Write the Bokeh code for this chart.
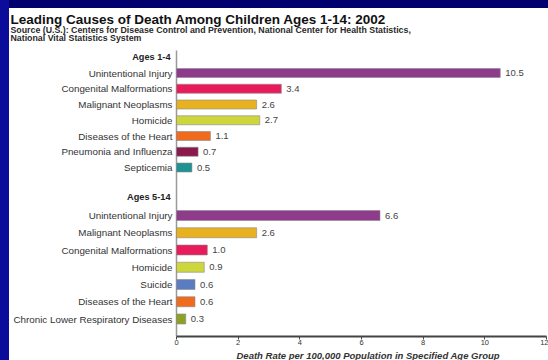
from bokeh.plotting import figure
from bokeh.models import ColumnDataSource, Range1d, FixedTicker, Spacer, Title
from bokeh.layouts import row, column
from bokeh.embed import file_html
from bokeh.resources import INLINE
from bokeh.core.properties import value

# ---------------- data ----------------
chart_title = "Leading Causes of Death Among Children Ages 1-14: 2002"
source_line1 = "Source (U.S.): Centers for Disease Control and Prevention, National Center for Health Statistics,"
source_line2 = "National Vital Statistics System"

group1_label = "Ages 1-4"
group1_causes = ["Unintentional Injury", "Congenital Malformations", "Malignant Neoplasms",
                 "Homicide", "Diseases of the Heart", "Pneumonia and Influenza", "Septicemia"]
group1_rates = [10.5, 3.4, 2.6, 2.7, 1.1, 0.7, 0.5]
group1_colors = ["#8e3b8c", "#e81b5c", "#e8b11f", "#cdd63c", "#ef6b1e", "#8a1a4c", "#1d9294"]

group2_label = "Ages 5-14"
group2_causes = ["Unintentional Injury", "Malignant Neoplasms", "Congenital Malformations",
                 "Homicide", "Suicide", "Diseases of the Heart", "Chronic Lower Respiratory Diseases"]
group2_rates = [6.6, 2.6, 1.0, 0.9, 0.6, 0.6, 0.3]
group2_colors = ["#8e3b8c", "#e8b11f", "#e81b5c", "#cdd63c", "#5b7cc0", "#ef6b1e", "#8fa123"]

x_ticks = [0, 2, 4, 6, 8, 10, 12]
x_title = "Death Rate per 100,000 Population in Specified Age Group"

# ---------------- geometry ----------------
FONT = "Liberation Sans"
PANEL_W, PANEL_H = 539, 352          # white panel (slide strips take the rest)
BOTTOM = 24                          # room for the x axis and its title
ZERO_PX, MAX_PX = 167, 537           # where 0 and 12 sit inside the panel
TOP_PX = 42                          # y = 0 (top of the bar area) inside the panel
ppu = (MAX_PX - ZERO_PX) / x_ticks[-1]
x_range = Range1d(-ZERO_PX / ppu, x_ticks[-1] + (PANEL_W - MAX_PX) / ppu)
y_bottom = PANEL_H - BOTTOM - TOP_PX
y_range = Range1d(y_bottom, -TOP_PX)   # 1 data unit = 1 px, downwards

g1_header = 6.5
g1_pos = [22.5 + 15.75 * i for i in range(len(group1_causes))]
g2_header = 146.5
g2_pos = [165 + 17.25 * i for i in range(len(group2_causes))]

src = ColumnDataSource(dict(
    y=g1_pos + g2_pos,
    name=group1_causes + group2_causes,
    rate=group1_rates + group2_rates,
    color=group1_colors + group2_colors,
    h=[9.0] * len(g1_pos) + [10.0] * len(g2_pos),
    lab=[f"{v:.1f}" for v in group1_rates + group2_rates],
))

p = figure(width=PANEL_W, height=PANEL_H, output_backend="svg", toolbar_location=None,
           x_range=x_range, y_range=y_range, y_axis_location=None,
           min_border_left=0, min_border_right=0, min_border_top=0, min_border_bottom=BOTTOM)
p.title.visible = False
p.background_fill_color = "white"
p.border_fill_color = "white"
p.outline_line_color = None
p.xgrid.grid_line_color = None
p.ygrid.grid_line_color = None

# vertical axis rule
p.line(x=[0, 0], y=[0, y_bottom], line_color="#9a9a9a", line_width=1.5)

# bars and value labels
p.hbar(y="y", left=0, right="rate", height="h", fill_color="color",
       line_color="#8a8a8a", line_width=0.6, source=src)
p.text(x="rate", y="y", text="lab", x_offset=5, text_baseline="middle",
       text_font=value(FONT), text_font_size="9.5px", text_color="#444444", source=src)

# category names
p.text(x=0, y="y", text="name", x_offset=-4, text_align="right", text_baseline="middle",
       text_font=value(FONT), text_font_size="9.8px", text_color="#333333", source=src)

# group headers
p.text(x=0, y=[g1_header, g2_header], text=[group1_label, group2_label], x_offset=-6,
       text_align="right", text_baseline="middle", text_font=value(FONT),
       text_font_size="9.2px", text_font_style="bold", text_color="#222222")

# title and source lines
p.text(x=0, y=[-31.5], text=[chart_title], x_offset=-166, text_baseline="alphabetic",
       text_font=value(FONT), text_font_size="13.5px", text_font_style="bold",
       text_color="#111111")
p.text(x=0, y=[-20.5, -12.5], text=[source_line1, source_line2], x_offset=-166,
       text_baseline="alphabetic", text_font=value(FONT), text_font_size="8.8px",
       text_font_style="bold", text_color="#2a2a2a")

# x axis
xa = p.xaxis[0]
xa.bounds = (x_ticks[0], x_ticks[-1])
xa.ticker = FixedTicker(ticks=x_ticks)
xa.minor_tick_line_color = None
xa.axis_line_color = "#444444"
xa.axis_line_width = 2
xa.major_tick_line_color = "#444444"
xa.major_tick_in = 0
xa.major_tick_out = 3
xa.major_label_standoff = 0
xa.major_label_text_font = FONT
xa.major_label_text_font_size = "7.5px"
xa.major_label_text_color = "#333333"

# axis title, centred under the 0-12 scale
p.add_layout(Title(text=x_title, align="left", offset=236 - 9, standoff=0,
                   text_font=FONT, text_font_size="9.5px", text_font_style="bold italic",
                   text_color="#333333"), "below")

# slide background strips around the white panel
left_strip = Spacer(width=9, height=360, styles={"background-color": "#0c0c9a"})
top_strip = Spacer(width=PANEL_W, height=8, styles={"background-color": "#00006e"})
layout = row(left_strip, column(top_strip, p, spacing=0), spacing=0)

open("out.html", "w").write(file_html(layout, INLINE))
